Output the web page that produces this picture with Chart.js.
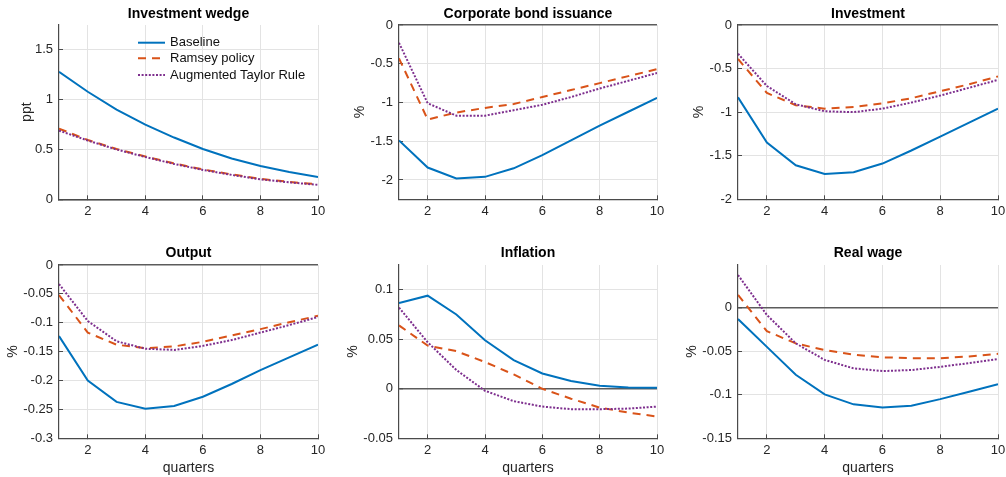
<!DOCTYPE html>
<html><head><meta charset="utf-8">
<script src="https://cdn.jsdelivr.net/npm/chart.js@4.4.1/dist/chart.umd.min.js"></script>
<style>
html,body{margin:0;padding:0;background:#fff;overflow:hidden;}
#wrap{position:relative;width:1006px;height:477px;overflow:hidden;background:#fff;}
canvas{position:absolute;}
</style></head><body><div id="wrap"></div>
<script>
// ---------- data ----------
const quarters = [1, 2, 3, 4, 5, 6, 7, 8, 9, 10];
const xTicks = [2, 4, 6, 8, 10];
const seriesNames = ['Baseline', 'Ramsey policy', 'Augmented Taylor Rule'];
const xAxisLabel = 'quarters';

const wedgeBaseline = [1.28, 1.08, 0.90, 0.75, 0.62, 0.505, 0.41, 0.335, 0.275, 0.225];
const wedgeRamsey   = [0.71, 0.595, 0.505, 0.43, 0.36, 0.30, 0.25, 0.205, 0.175, 0.15];
const wedgeTaylor   = [0.69, 0.59, 0.50, 0.425, 0.355, 0.295, 0.245, 0.20, 0.17, 0.145];
const wedgeTicks = [0, 0.5, 1, 1.5];

const bondBaseline = [-1.49, -1.84, -1.98, -1.96, -1.85, -1.68, -1.49, -1.30, -1.12, -0.94];
const bondRamsey   = [-0.43, -1.22, -1.13, -1.07, -1.02, -0.93, -0.84, -0.75, -0.66, -0.57];
const bondTaylor   = [-0.23, -1.01, -1.17, -1.17, -1.10, -1.03, -0.93, -0.82, -0.72, -0.62];
const bondTicks = [-2, -1.5, -1, -0.5, 0];

const invBaseline = [-0.83, -1.35, -1.61, -1.71, -1.69, -1.59, -1.44, -1.28, -1.12, -0.96];
const invRamsey   = [-0.39, -0.78, -0.92, -0.96, -0.94, -0.90, -0.84, -0.76, -0.68, -0.59];
const invTaylor   = [-0.33, -0.70, -0.91, -0.99, -1.00, -0.96, -0.89, -0.81, -0.72, -0.63];
const invTicks = [-2, -1.5, -1, -0.5, 0];

const outBaseline = [-0.123, -0.200, -0.237, -0.249, -0.244, -0.228, -0.206, -0.182, -0.160, -0.138];
const outRamsey   = [-0.052, -0.117, -0.138, -0.144, -0.141, -0.133, -0.122, -0.111, -0.099, -0.088];
const outTaylor   = [-0.033, -0.097, -0.132, -0.145, -0.147, -0.140, -0.130, -0.117, -0.104, -0.090];
const outTicks = [-0.3, -0.25, -0.2, -0.15, -0.1, -0.05, 0];

const inflBaseline = [0.0865, 0.094, 0.075, 0.049, 0.029, 0.0155, 0.0078, 0.003, 0.0013, 0.001];
const inflRamsey   = [0.064, 0.0436, 0.038, 0.027, 0.0145, 0.000, -0.010, -0.019, -0.024, -0.028];
const inflTaylor   = [0.082, 0.047, 0.019, -0.002, -0.0125, -0.018, -0.0206, -0.0206, -0.020, -0.018];
const inflTicks = [-0.05, 0, 0.05, 0.1];

const wageBaseline = [-0.013, -0.045, -0.077, -0.0996, -0.111, -0.1146, -0.1126, -0.105, -0.0966, -0.088];
const wageRamsey   = [0.0146, -0.027, -0.041, -0.0487, -0.054, -0.057, -0.058, -0.058, -0.056, -0.053];
const wageTaylor   = [0.0375, -0.0084, -0.041, -0.060, -0.0697, -0.0728, -0.0716, -0.068, -0.0636, -0.059];
const wageTicks = [-0.15, -0.1, -0.05, 0];

const panelTitles = ['Investment wedge', 'Corporate bond issuance', 'Investment', 'Output', 'Inflation', 'Real wage'];
const panelYLabels = ['ppt', '%', '%', '%', '%', '%'];
const panelYRanges = [[0, 1.75], [-2.25, 0], [-2, 0], [-0.3, 0], [-0.05, 0.125], [-0.15, 0.049]];
const panelSeries = [
  [wedgeBaseline, wedgeRamsey, wedgeTaylor],
  [bondBaseline, bondRamsey, bondTaylor],
  [invBaseline, invRamsey, invTaylor],
  [outBaseline, outRamsey, outTaylor],
  [inflBaseline, inflRamsey, inflTaylor],
  [wageBaseline, wageRamsey, wageTaylor]
];
const panelYTicks = [wedgeTicks, bondTicks, invTicks, outTicks, inflTicks, wageTicks];

// ---------- styles & layout ----------
const seriesStyles = [
  {color: '#0072BD', width: 2, dash: []},
  {color: '#D95319', width: 2, dash: [8, 6]},
  {color: '#7E2F8E', width: 2, dash: [2, 1.6]}
];
const FONT = '"Liberation Sans", Arial, Helvetica, sans-serif';
const TXT = '#262626';
const GRID = '#e3e3e3';
const ZERO = '#5c5c5c';
const AXIS = '#4a4a4a';
const TICKLEN = 4;

const colLeft = [0, 335, 670];
const rowTop = [0, 238];
const CW = 345, CH = 239;
// plot-area boxes (absolute px) and y-label centre x
const geom = [
  {L: 59,  R: 318, T: 25,  B: 199.3, ylx: 26.7},
  {L: 399, R: 657, T: 25,  B: 199.3, ylx: 360.3},
  {L: 738, R: 998, T: 25,  B: 199.3, ylx: 698.7},
  {L: 59,  R: 318, T: 265, B: 438.3, ylx: 12.8},
  {L: 399, R: 657, T: 265, B: 438.3, ylx: 352.8},
  {L: 738, R: 998, T: 265, B: 438.3, ylx: 692.2}
];
const legendGeom = {x1: 138, x2: 165, tx: 170, ys: [42.7, 58.3, 75]};

const legendPlugin = {
  id: 'matlabLegend',
  afterDraw(chart) {
    const ctx = chart.ctx;
    ctx.save();
    chart.data.datasets.forEach((ds, i) => {
      const y = legendGeom.ys[i];
      ctx.beginPath();
      ctx.strokeStyle = ds.borderColor;
      ctx.lineWidth = ds.borderWidth;
      ctx.setLineDash(ds.borderDash || []);
      ctx.moveTo(legendGeom.x1, y);
      ctx.lineTo(legendGeom.x2, y);
      ctx.stroke();
      ctx.setLineDash([]);
      ctx.fillStyle = '#111';
      ctx.font = '13px ' + FONT;
      ctx.textBaseline = 'middle';
      ctx.textAlign = 'left';
      ctx.fillText(ds.label, legendGeom.tx, y);
    });
    ctx.restore();
  }
};

const wrap = document.getElementById('wrap');
panelTitles.forEach((title, p) => {
  const col = p % 3, row = Math.floor(p / 3);
  const cl = colLeft[col], ct = rowTop[row];
  const g = geom[p];
  const cv = document.createElement('canvas');
  cv.width = CW; cv.height = CH;
  cv.style.left = cl + 'px'; cv.style.top = ct + 'px';
  cv.style.width = CW + 'px'; cv.style.height = CH + 'px';
  wrap.appendChild(cv);

  const titleLH = 14 * 1.2;
  const titleCenter = row === 0 ? 14 : 15.3;
  const plotTopRel = g.T - ct;
  const tPadTop = titleCenter - titleLH / 2;
  const tPadBot = plotTopRel - tPadTop - titleLH;
  const padLeft = g.ylx - cl - titleLH / 2;
  const yW = g.L - cl - padLeft;
  const padRight = cl + CW - g.R;
  const xH = ct + CH - g.B;
  const showX = row === 1;

  const datasets = panelSeries[p].map((vals, i) => ({
    label: seriesNames[i],
    data: vals,
    borderColor: seriesStyles[i].color,
    backgroundColor: seriesStyles[i].color,
    borderWidth: seriesStyles[i].width,
    borderDash: seriesStyles[i].dash,
    borderCapStyle: 'butt',
    pointRadius: 0,
    tension: 0,
    fill: false,
    order: 2 - i
  }));

  const yTicks = panelYTicks[p];
  new Chart(cv, {
    type: 'line',
    data: {labels: quarters, datasets},
    plugins: p === 0 ? [legendPlugin] : [],
    options: {
      responsive: false,
      animation: false,
      devicePixelRatio: 1,
      events: [],
      layout: {padding: {left: padLeft, right: padRight, top: 0, bottom: 0}},
      plugins: {
        legend: {display: false},
        tooltip: {enabled: false},
        title: {
          display: true, text: title, color: '#000', fullSize: false,
          font: {family: FONT, size: 14, weight: 'bold', lineHeight: 1.2},
          padding: {top: tPadTop, bottom: tPadBot}
        }
      },
      scales: {
        x: {
          type: 'linear', min: 1, max: 10,
          afterBuildTicks: s => { s.ticks = xTicks.map(v => ({value: v})); },
          afterFit: s => { s.height = xH; },
          grid: {color: GRID, lineWidth: 1, drawTicks: true, tickLength: -TICKLEN, tickColor: AXIS, tickWidth: 1},
          border: {display: true, color: AXIS, width: 1.2},
          ticks: {color: TXT, font: {family: FONT, size: 13}, padding: 4.6 + TICKLEN, maxRotation: 0,
                  callback: v => String(v)},
          title: {display: showX, text: xAxisLabel, color: TXT,
                  font: {family: FONT, size: 14, lineHeight: 1.2}, padding: {top: 0, bottom: 0.6}}
        },
        y: {
          type: 'linear', min: panelYRanges[p][0], max: panelYRanges[p][1],
          afterBuildTicks: s => { s.ticks = yTicks.map(v => ({value: v})); },
          afterFit: s => { s.width = yW; },
          grid: {
            color: c => (c.tick && c.tick.value === 0) ? ZERO : GRID,
            lineWidth: c => (c.tick && c.tick.value === 0) ? 1.6 : 1,
            drawTicks: true, tickLength: -TICKLEN, tickColor: AXIS, tickWidth: 1
          },
          border: {display: true, color: AXIS, width: 1.2},
          ticks: {color: TXT, font: {family: FONT, size: 13}, padding: 6 + TICKLEN,
                  callback: v => String(v)},
          title: {display: true, text: panelYLabels[p], color: TXT,
                  font: {family: FONT, size: 14, lineHeight: 1.2}, padding: {top: 0, bottom: 0}}
        }
      }
    }
  });
});
</script>
</body></html>
